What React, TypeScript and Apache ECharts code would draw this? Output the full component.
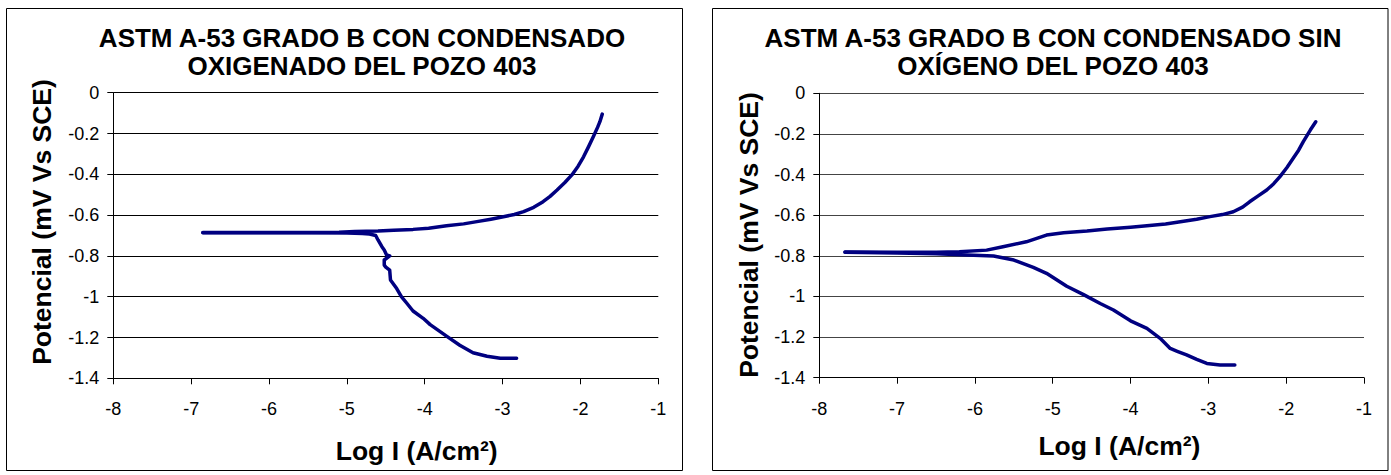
import React, { useEffect, useRef } from "react";
import * as echarts from "echarts";

// ---------- Data (log I in A/cm², potential in V vs SCE) ----------
const xTicks = [-8, -7, -6, -5, -4, -3, -2, -1];
const yTicks = [0, -0.2, -0.4, -0.6, -0.8, -1, -1.2, -1.4];

const titleLeft = "ASTM A-53 GRADO B CON CONDENSADO\nOXIGENADO DEL POZO 403";
const titleRight = "ASTM A-53 GRADO B CON CONDENSADO SIN\nOXÍGENO DEL POZO 403";
const yAxisName = "Potencial (mV Vs SCE)";
const xAxisName = "Log I (A/cm²)";

// Left chart: oxygenated condensate
const cathodicLeft: [number, number][] = [
  [-2.82, -1.302], [-3.03, -1.302], [-3.2, -1.292], [-3.38, -1.275], [-3.55, -1.238],
  [-3.72, -1.193], [-3.93, -1.137], [-4.02, -1.106], [-4.15, -1.07], [-4.23, -1.032],
  [-4.3, -1.0], [-4.36, -0.96], [-4.44, -0.918], [-4.45, -0.87], [-4.5, -0.855],
  [-4.52, -0.845], [-4.52, -0.82], [-4.45, -0.8], [-4.49, -0.795], [-4.52, -0.771],
  [-4.55, -0.755], [-4.6, -0.722], [-4.63, -0.7], [-4.71, -0.693], [-4.8, -0.69],
  [-5.0, -0.688], [-5.5, -0.687], [-6.0, -0.686], [-6.5, -0.686], [-6.85, -0.686],
];
const anodicLeft: [number, number][] = [
  [-6.85, -0.685], [-6.0, -0.685], [-5.5, -0.685], [-5.1, -0.684], [-4.9, -0.68],
  [-4.6, -0.678], [-4.4, -0.674], [-4.15, -0.67], [-3.95, -0.664], [-3.72, -0.652],
  [-3.5, -0.643], [-3.33, -0.632], [-3.15, -0.62], [-2.99, -0.608], [-2.85, -0.597],
  [-2.73, -0.583], [-2.6, -0.562], [-2.48, -0.534], [-2.39, -0.508], [-2.3, -0.477],
  [-2.2, -0.44], [-2.11, -0.403], [-2.03, -0.36], [-1.96, -0.314], [-1.9, -0.268],
  [-1.835, -0.216], [-1.78, -0.17], [-1.75, -0.142], [-1.72, -0.105],
];

// Right chart: oxygen-free condensate
const cathodicRight: [number, number][] = [
  [-2.66, -1.338], [-2.85, -1.338], [-3.02, -1.33], [-3.15, -1.31], [-3.28, -1.288],
  [-3.4, -1.27], [-3.49, -1.256], [-3.62, -1.206], [-3.79, -1.157], [-4.0, -1.12],
  [-4.22, -1.067], [-4.39, -1.035], [-4.61, -0.99], [-4.82, -0.95], [-5.08, -0.886],
  [-5.25, -0.857], [-5.5, -0.821], [-5.76, -0.801], [-6.1, -0.796], [-6.5, -0.79],
  [-7.0, -0.786], [-7.67, -0.782],
];
const anodicRight: [number, number][] = [
  [-7.67, -0.781], [-7.0, -0.782], [-6.5, -0.782], [-6.2, -0.78], [-5.85, -0.772],
  [-5.64, -0.755], [-5.34, -0.731], [-5.08, -0.698], [-4.86, -0.686], [-4.56, -0.678],
  [-4.3, -0.668], [-4.0, -0.659], [-3.79, -0.652], [-3.55, -0.643], [-3.36, -0.632],
  [-3.15, -0.62], [-2.98, -0.607], [-2.82, -0.597], [-2.68, -0.583], [-2.56, -0.56],
  [-2.47, -0.534], [-2.36, -0.505], [-2.25, -0.476], [-2.16, -0.445], [-2.08, -0.41],
  [-1.99, -0.365], [-1.91, -0.32], [-1.84, -0.28], [-1.78, -0.238], [-1.69, -0.181],
  [-1.62, -0.14],
];

const FONT = "'Liberation Sans', Arial, sans-serif";
const LINE_COLOR = "#000080";

function makeXAxis(gridIndex: number) {
  return {
    type: "value",
    gridIndex,
    min: xTicks[0],
    max: xTicks[xTicks.length - 1],
    interval: 1,
    axisLine: { show: true, onZero: false, lineStyle: { color: "#000", width: 1 } },
    axisTick: { show: true, inside: false, length: 6, lineStyle: { color: "#000" } },
    axisLabel: { color: "#000", fontSize: 18, fontFamily: FONT, margin: 22, lineHeight: 18 },
    splitLine: { show: false },
  };
}

function makeYAxis(gridIndex: number, gridColor: string) {
  return {
    type: "value",
    gridIndex,
    min: yTicks[yTicks.length - 1],
    max: yTicks[0],
    interval: 0.2,
    axisLine: { show: true, onZero: false, lineStyle: { color: "#000", width: 1 } },
    axisTick: { show: true, inside: false, length: 6, lineStyle: { color: "#000" } },
    axisLabel: {
      color: "#000",
      fontSize: 18,
      fontFamily: FONT,
      margin: 14,
      formatter: (v: number) => String(Math.round(v * 10) / 10),
    },
    splitLine: { show: true, lineStyle: { color: gridColor, width: 1 } },
  };
}

function lineSeries(data: [number, number][], idx: number) {
  return {
    type: "line",
    xAxisIndex: idx,
    yAxisIndex: idx,
    data,
    showSymbol: false,
    symbol: "none",
    lineStyle: { color: LINE_COLOR, width: 3.5, join: "round", cap: "round" },
    z: 5,
  };
}

function txt(text: string, x: number, y: number, size: number, rotation = 0, lineHeight?: number) {
  return {
    type: "text",
    x,
    y,
    rotation,
    z: 10,
    style: {
      text,
      fill: "#000",
      fontSize: size,
      fontWeight: "bold",
      fontFamily: FONT,
      textAlign: "center",
      textVerticalAlign: "middle",
      lineHeight: lineHeight || size,
    },
  };
}

export default function App() {
  const ref = useRef<HTMLDivElement>(null);

  useEffect(() => {
    if (!ref.current) return;
    const chart = echarts.init(ref.current, undefined, { renderer: "svg" });
    chart.setOption({
      animation: false,
      backgroundColor: "#fff",
      grid: [
        { left: 113.3, top: 92.7, width: 545, height: 285.6, containLabel: false },
        { left: 819.3, top: 93.3, width: 544.7, height: 284.4, containLabel: false },
      ],
      xAxis: [makeXAxis(0), makeXAxis(1)],
      yAxis: [makeYAxis(0, "#000"), makeYAxis(1, "#444")],
      series: [
        lineSeries(cathodicLeft, 0),
        lineSeries(anodicLeft, 0),
        lineSeries(cathodicRight, 1),
        lineSeries(anodicRight, 1),
      ],
      graphic: [
        {
          type: "rect",
          shape: { x: 6.5, y: 8.5, width: 676, height: 462 },
          style: { fill: "none", stroke: "#000", lineWidth: 1 },
          z: 0,
        },
        {
          type: "rect",
          shape: { x: 712.5, y: 8.5, width: 675.5, height: 462 },
          style: { fill: "none", stroke: "#000", lineWidth: 1 },
          z: 0,
        },
        txt(titleLeft, 362, 52.2, 26, 0, 28),
        txt(titleRight, 1053, 52.2, 26, 0, 28),
        txt(yAxisName, 42, 222, 26.5, Math.PI / 2),
        txt(yAxisName, 749, 235, 26.5, Math.PI / 2),
        txt(xAxisName, 416.7, 451, 26.5),
        txt(xAxisName, 1119.4, 446, 26.5),
      ],
    });
    return () => chart.dispose();
  }, []);

  return (
    <div
      ref={ref}
      style={{ position: "fixed", left: 0, top: 0, width: 1391, height: 475, background: "#fff" }}
    />
  );
}
